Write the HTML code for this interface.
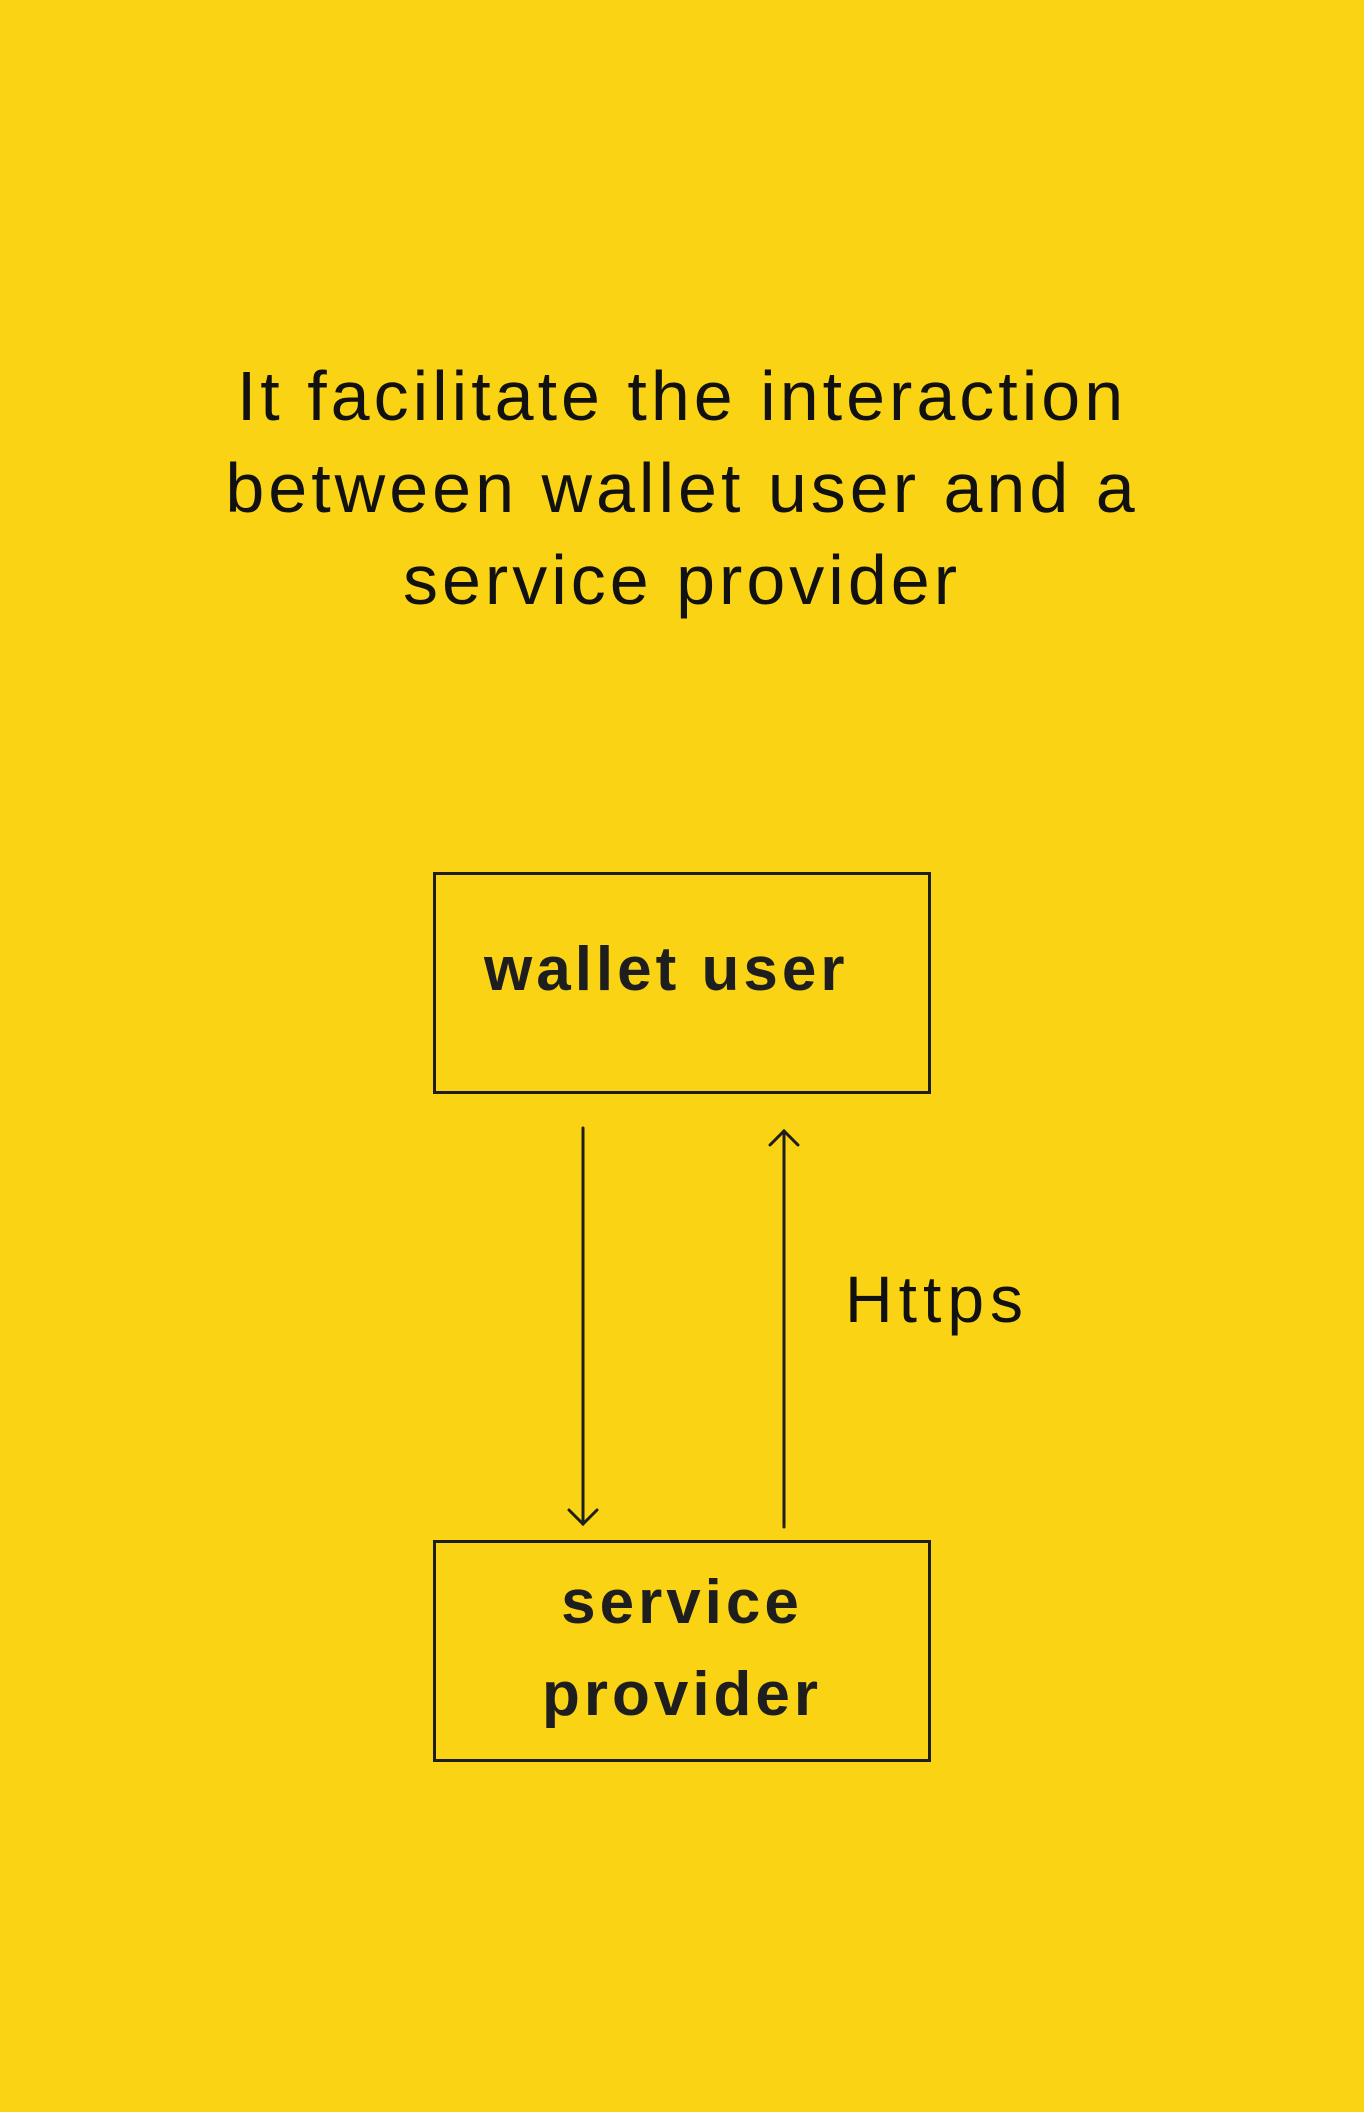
<!DOCTYPE html>
<html><head><meta charset="utf-8"><style>
html,body{margin:0;padding:0}
body{width:1364px;height:2112px;background:#fad414;position:relative;overflow:hidden;font-family:"Liberation Sans",sans-serif;color:#1e1e1e}
.t{position:absolute;left:0;width:1364px;text-align:center;font-size:70px;line-height:92px;letter-spacing:4px;color:#111}
.box{position:absolute;border:3px solid #1e1e1e;box-sizing:border-box}
.lbl{position:absolute;font-weight:bold;font-size:62px;letter-spacing:4px}
</style></head><body>
<div class="t" style="top:350px">It facilitate the interaction<br>between wallet user and a<br>service provider</div>
<div class="box" style="left:433px;top:872px;width:498px;height:222px"></div>
<div class="lbl" style="left:484px;top:935px;line-height:70px">wallet user</div>
<div class="box" style="left:433px;top:1540px;width:498px;height:222px"></div>
<div class="lbl" style="left:433px;width:498px;text-align:center;top:1557px;line-height:92px">service<br>provider</div>
<svg width="1364" height="2112" style="position:absolute;left:0;top:0">
<g stroke="#1e1e1e" stroke-width="3" fill="none" stroke-linecap="round">
<line x1="583" y1="1128" x2="583" y2="1524"/>
<polyline points="569,1510 583,1524 597,1510"/>
<line x1="784" y1="1131" x2="784" y2="1527"/>
<polyline points="770,1145 784,1131 798,1145"/>
</g>
<text x="845" y="1322" font-family="Liberation Sans, sans-serif" font-size="66" letter-spacing="6" fill="#111">Https</text>
</svg>
</body></html>
